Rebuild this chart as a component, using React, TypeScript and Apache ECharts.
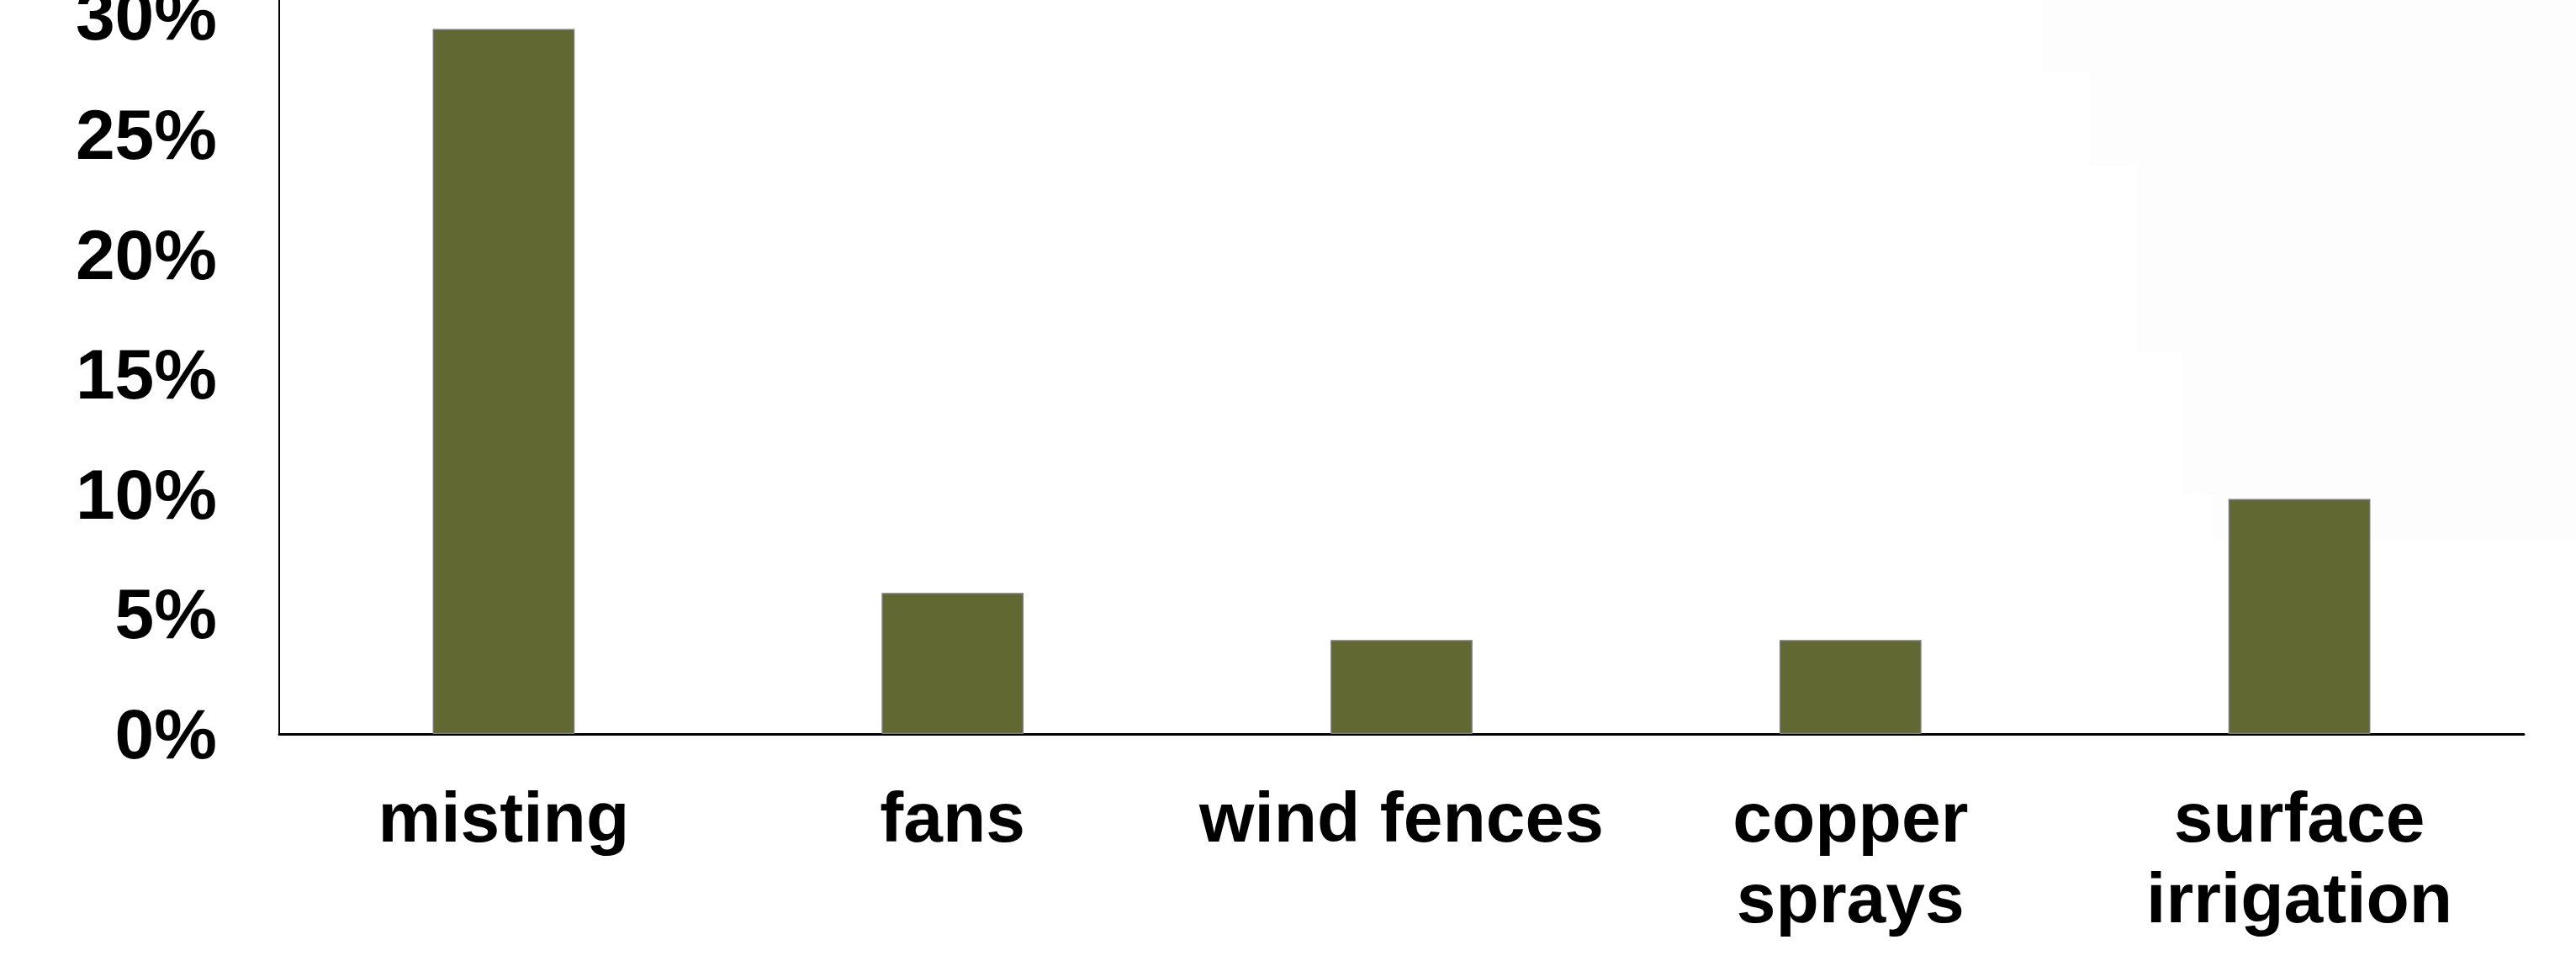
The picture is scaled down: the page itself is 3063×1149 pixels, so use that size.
import React, { useEffect, useRef } from "react";
import * as echarts from "echarts";

const categories = ["misting", "fans", "wind fences", "copper\nsprays", "surface\nirrigation"];
const shareValues = [29.41, 5.88, 3.92, 3.92, 9.8];
const yTickFormat = (v: number) => `${v}%`;

export default function App() {
  const ref = useRef<HTMLDivElement>(null);
  useEffect(() => {
    if (!ref.current) return;
    document.body.style.margin = "0";
    const chart = echarts.init(ref.current, undefined, { renderer: "svg" });
    const font = '"Liberation Sans", Arial, sans-serif';
    chart.setOption({
      animation: false,
      backgroundColor: "#ffffff",
      grid: {
        left: 332,
        right: 62,
        top: 1,
        bottom: 276,
        containLabel: false,
        outerBoundsMode: "none",
      },
      graphic: [
        {
          type: "polygon",
          silent: true,
          z: -10,
          shape: {
            points: [
              [2429, 126], [3063, 126], [3063, 770], [2631, 770], [2631, 714],
              [2595, 714], [2595, 546], [2542, 546], [2542, 323], [2485, 323],
              [2485, 211], [2429, 211],
            ],
          },
          style: { fill: "#fdfdfd" },
        },
      ],
      xAxis: {
        type: "category",
        data: categories,
        axisLine: { show: true, lineStyle: { color: "#000000", width: 3 } },
        axisTick: { show: false },
        axisLabel: {
          interval: 0,
          margin: 51,
          color: "#000000",
          fontFamily: font,
          fontWeight: "bold",
          fontSize: 84,
          lineHeight: 96,
        },
      },
      yAxis: {
        type: "value",
        min: 0,
        max: 35,
        interval: 5,
        axisLine: { show: true, lineStyle: { color: "#000000", width: 2 } },
        axisTick: { show: false },
        splitLine: { show: false },
        axisLabel: {
          margin: 74,
          showMaxLabel: false,
          color: "#000000",
          fontFamily: font,
          fontWeight: "bold",
          fontSize: 84,
          formatter: yTickFormat,
        },
      },
      series: [
        {
          type: "bar",
          data: shareValues,
          barWidth: "31.6%",
          itemStyle: { color: "#616831", borderColor: "#7a7a7a", borderWidth: 1.5 },
        },
      ],
    });
    return () => chart.dispose();
  }, []);
  return (
    <div
      ref={ref}
      style={{ position: "absolute", left: 0, top: -126, width: 3063, height: 1275 }}
    />
  );
}
